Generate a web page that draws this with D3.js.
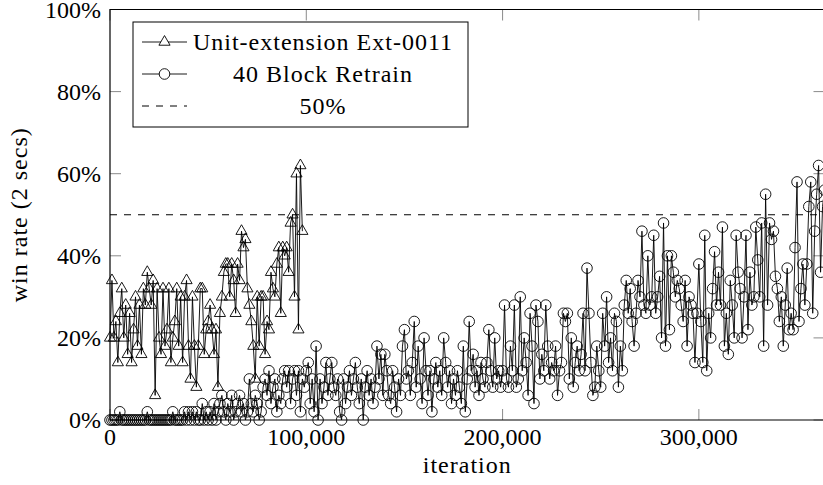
<!DOCTYPE html>
<html>
<head>
<meta charset="utf-8">
<script src="https://cdnjs.cloudflare.com/ajax/libs/d3/7.8.5/d3.min.js"></script>
<style>
  body { margin: 0; background: #fff; }
  #chart text { font-family: "Times New Roman", Times, "Liberation Serif", "Nimbus Roman", "DejaVu Serif", "Noto Serif", serif; }
</style>
</head>
<body>
<svg id="chart" width="823" height="485"></svg>
<script>
// one sample every 1000 iterations, win rate in %
const iterStep = 1000;

const unitExtension = [
  20,34,20,24,14,26,32,20,28,16,
  26,14,22,30,18,28,16,32,28,36,
  32,28,34,6,32,20,16,32,18,22,
  32,14,20,24,32,18,30,14,30,34,
  18,10,30,18,8,18,32,32,16,22,
  24,28,22,16,22,8,26,30,36,38,
  38,30,38,34,26,38,34,46,42,44,
  32,28,24,18,10,30,18,30,30,16,
  24,22,36,32,30,38,42,26,42,40,
  42,36,48,50,30,60,22,62,46
];

const blockRetrain = [
  0,0,0,0,0,2,0,0,0,0,
  0,0,0,0,0,0,0,0,0,2,
  0,0,0,0,0,0,0,0,0,0,
  0,0,2,0,0,0,0,0,2,0,
  2,0,2,0,2,0,0,4,0,2,
  0,2,0,4,0,2,4,6,2,0,
  4,2,6,0,2,4,6,2,4,0,
  2,10,4,2,6,4,0,2,8,10,
  6,12,4,8,10,2,6,4,10,12,
  8,12,4,10,12,6,12,2,10,8,
  12,14,4,10,2,18,0,10,4,8,
  14,6,10,14,8,6,10,2,0,10,
  4,8,12,6,10,14,8,4,10,0,
  8,12,6,10,4,8,18,10,16,6,
  16,12,6,4,12,8,2,10,6,18,
  22,10,12,6,14,24,8,18,10,4,
  20,12,6,12,2,10,14,8,12,6,
  20,14,8,12,4,10,6,12,8,4,
  18,2,10,24,12,16,8,12,6,14,
  10,8,14,22,12,8,20,10,12,8,
  12,28,10,8,18,12,28,8,10,30,
  12,20,14,6,26,18,4,28,24,10,
  16,12,28,18,10,14,12,18,6,12,
  14,26,24,26,10,20,8,14,18,12,
  16,26,12,37,26,14,6,8,18,12,
  8,26,18,30,14,20,12,26,24,8,
  18,12,28,34,26,32,24,18,26,34,
  30,46,28,26,40,28,30,45,26,30,
  35,20,48,18,40,22,40,36,30,34,
  32,28,24,34,18,30,28,26,14,26,
  38,24,14,45,12,26,20,32,41,28,
  36,28,47,18,26,16,34,28,20,45,
  36,32,20,30,45,22,36,28,30,47,
  39,30,48,18,55,28,48,44,46,35,
  32,24,30,18,28,37,22,26,22,42,
  58,24,32,38,28,38,52,58,26,46,
  55,62,36,52,56
];

const baselineRate = 50;
const xTicks = [0, 100000, 200000, 300000];
const yTicks = [0, 20, 40, 60, 80, 100];
const legendLabels = ['Unit-extension Ext-0011', '40 Block Retrain', '50%'];
const xLabel = 'iteration';
const yLabel = 'win rate (2 secs)';

var svg = d3.select('#chart');
var plotLeft = 110, plotRight = 824.5, plotTop = 9.5, plotBottom = 420;
var tickLen = 11;

var x = d3.scaleLinear()
  .domain([0, (blockRetrain.length - 1) * iterStep])
  .range([plotLeft, plotRight]);
var y = d3.scaleLinear()
  .domain([0, 100])
  .range([plotBottom, plotTop]);

svg.append('rect')
  .attr('width', 823).attr('height', 485)
  .attr('fill', '#fff');

// ticks, drawn inward on all four sides
var ticks = svg.append('g').attr('stroke', '#8a8a8a').attr('stroke-width', 1);
xTicks.forEach(function(t) {
  ticks.append('line').attr('x1', x(t)).attr('x2', x(t)).attr('y1', plotBottom).attr('y2', plotBottom - tickLen);
  ticks.append('line').attr('x1', x(t)).attr('x2', x(t)).attr('y1', plotTop).attr('y2', plotTop + tickLen);
});
yTicks.forEach(function(t) {
  ticks.append('line').attr('x1', plotLeft).attr('x2', plotLeft + tickLen).attr('y1', y(t)).attr('y2', y(t));
  ticks.append('line').attr('x1', plotRight - tickLen).attr('x2', plotRight).attr('y1', y(t)).attr('y2', y(t));
});

// tick labels
svg.append('g').selectAll('text')
  .data(xTicks)
  .enter().append('text')
  .attr('x', function(d) { return x(d); })
  .attr('y', 445)
  .attr('text-anchor', 'middle')
  .attr('font-size', 24)
  .text(function(d) { return d3.format(',')(d); });

svg.append('g').selectAll('text')
  .data(yTicks)
  .enter().append('text')
  .attr('x', 101)
  .attr('y', function(d) { return y(d) + 8; })
  .attr('text-anchor', 'end')
  .attr('font-size', 24)
  .text(function(d) { return d + '%'; });

// axis labels
svg.append('text')
  .attr('x', (plotLeft + plotRight) / 2)
  .attr('y', 473)
  .attr('text-anchor', 'middle')
  .attr('font-size', 24)
  .attr('letter-spacing', 1)
  .text(xLabel);

svg.append('text')
  .attr('transform', 'translate(27,' + ((plotTop + plotBottom) / 2) + ')rotate(-90)')
  .attr('text-anchor', 'middle')
  .attr('font-size', 24)
  .attr('letter-spacing', 1)
  .text(yLabel);

// 50% reference
svg.append('line')
  .attr('x1', plotLeft).attr('x2', plotRight)
  .attr('y1', y(baselineRate)).attr('y2', y(baselineRate))
  .attr('stroke', '#000').attr('stroke-width', 1)
  .attr('stroke-dasharray', '7,7');

var line = d3.line()
  .x(function(d, i) { return x(i * iterStep); })
  .y(function(d) { return y(d); });

var triangle = d3.symbol().type(d3.symbolTriangle).size(54);

// series 1: triangles
svg.append('path')
  .datum(unitExtension)
  .attr('d', line)
  .attr('fill', 'none').attr('stroke', '#000').attr('stroke-width', 0.9);
svg.append('g').selectAll('path')
  .data(unitExtension)
  .enter().append('path')
  .attr('d', triangle)
  .attr('transform', function(d, i) { return 'translate(' + x(i * iterStep) + ',' + y(d) + ')'; })
  .attr('fill', 'none').attr('stroke', '#000').attr('stroke-width', 0.9);

// series 2: circles
svg.append('path')
  .datum(blockRetrain)
  .attr('d', line)
  .attr('fill', 'none').attr('stroke', '#000').attr('stroke-width', 0.9);
svg.append('g').selectAll('circle')
  .data(blockRetrain)
  .enter().append('circle')
  .attr('cx', function(d, i) { return x(i * iterStep); })
  .attr('cy', function(d) { return y(d); })
  .attr('r', 5.3)
  .attr('fill', 'none').attr('stroke', '#000').attr('stroke-width', 0.9);

// frame
svg.append('path')
  .attr('d', 'M' + plotRight + ',' + plotTop + 'H' + plotLeft + 'V' + plotBottom + 'H' + plotRight + 'Z')
  .attr('fill', 'none').attr('stroke', '#000').attr('stroke-width', 1.2);

// legend
var legend = svg.append('g');
legend.append('rect')
  .attr('x', 133).attr('y', 22)
  .attr('width', 335).attr('height', 105)
  .attr('fill', '#fff').attr('stroke', '#000').attr('stroke-width', 1);

var rowY = [42, 74, 106];
legendLabels.forEach(function(label, i) {
  var ly = rowY[i];
  var sample = legend.append('line')
    .attr('x1', 142).attr('x2', 187)
    .attr('y1', ly).attr('y2', ly)
    .attr('stroke', '#000').attr('stroke-width', 0.9);
  if (i === 0) {
    legend.append('path').attr('d', triangle)
      .attr('transform', 'translate(164.5,' + ly + ')')
      .attr('fill', '#fff').attr('stroke', '#000').attr('stroke-width', 0.9);
  } else if (i === 1) {
    legend.append('circle').attr('cx', 164.5).attr('cy', ly).attr('r', 5.3)
      .attr('fill', '#fff').attr('stroke', '#000').attr('stroke-width', 0.9);
  } else {
    sample.attr('stroke-dasharray', '7,7').attr('stroke-width', 1);
  }
  legend.append('text')
    .attr('x', 323).attr('y', ly + 8)
    .attr('text-anchor', 'middle')
    .attr('font-size', 24)
    .attr('letter-spacing', 1)
    .text(label);
});
</script>
</body>
</html>
